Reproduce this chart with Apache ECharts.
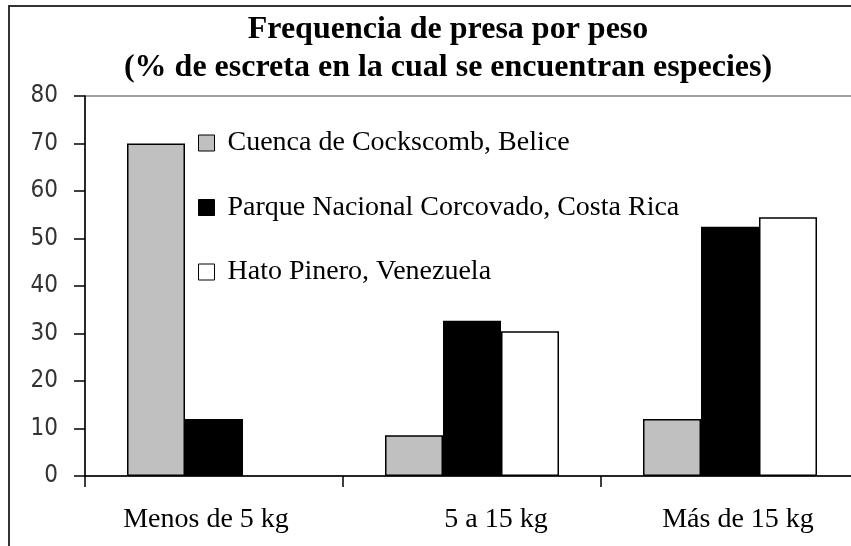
<!DOCTYPE html>
<html>
<head>
<meta charset="utf-8">
<script src="https://cdn.jsdelivr.net/npm/echarts@6/dist/echarts.min.js"></script>
<style>html,body{margin:0;padding:0;background:#fff;}#c{width:851px;height:546px;}</style>
</head>
<body>
<div id="c"></div>
<script>
const categories = ['Menos de 5 kg', '5 a 15 kg', 'Más de 15 kg'];
const seriesNames = ['Cuenca de Cockscomb, Belice', 'Parque Nacional Corcovado, Costa Rica', 'Hato Pinero, Venezuela'];
const belice = [70, 8.6, 12];
const costaRica = [12, 32.7, 52.5];
const venezuela = [0, 30.5, 54.5];
const yTicks = [0, 10, 20, 30, 40, 50, 60, 70, 80];
const titleLines = ['Frequencia de presa por peso', '(% de escreta en la cual se encuentran especies)'];

const colors = ['#c0c0c0', '#000000', '#ffffff'];
const serif = '"Liberation Serif", "Times New Roman", serif';
const labelKeys = ['a', 'b', 'c'];

const chart = echarts.init(document.getElementById('c'), null, {renderer: 'canvas'});
const seriesData = [belice, costaRica, venezuela];

chart.setOption({
  animation: false,
  backgroundColor: '#fff',
  title: [
    {text: titleLines[0], left: 448, top: 14, textAlign: 'center', padding: 0,
     textStyle: {fontFamily: serif, fontWeight: 'bold', fontSize: 32, color: '#000', lineHeight: 32}},
    {text: titleLines[1], left: 448, top: 52, textAlign: 'center', padding: 0,
     textStyle: {fontFamily: serif, fontWeight: 'bold', fontSize: 32, color: '#000', lineHeight: 32}}
  ],
  legend: {
    orient: 'vertical', left: 198, top: 129, itemGap: 36.5,
    itemWidth: 16, itemHeight: 16, padding: 0,
    icon: 'rect',
    textStyle: {fontFamily: serif, fontSize: 28, color: '#000', lineHeight: 28, padding: [0, 0, 0, 8]},
    data: seriesNames.map((n, i) => ({name: n, itemStyle: {color: colors[i], borderColor: '#000', borderWidth: 1}}))
  },
  grid: {left: 85, top: 96, width: 774, height: 380, containLabel: false, outerBoundsMode: 'none',
         show: true, borderColor: '#808080', borderWidth: 1.5, backgroundColor: 'transparent'},
  xAxis: {
    type: 'category', data: categories,
    axisLine: {lineStyle: {color: '#000', width: 1.5}},
    axisTick: {show: true, alignWithLabel: false, inside: false, length: 11, lineStyle: {color: '#000', width: 1.5}},
    axisLabel: {
      margin: 30, color: '#000',
      formatter: function (v, i) { return '{' + labelKeys[i] + '|' + v + '}'; },
      rich: {
        a: {fontFamily: serif, fontSize: 28, color: '#000', padding: [0, 16, 0, 0]},
        b: {fontFamily: serif, fontSize: 28, color: '#000', padding: [0, 0, 0, 48]},
        c: {fontFamily: serif, fontSize: 28, color: '#000', padding: [0, 0, 0, 16]}
      }
    },
    splitLine: {show: false}
  },
  yAxis: {
    type: 'value', min: 0, max: 80, interval: 10,
    axisLine: {show: true, lineStyle: {color: '#000', width: 1.5}},
    axisTick: {show: true, length: 11, lineStyle: {color: '#000', width: 1.5}},
    axisLabel: {margin: 27, color: '#333', fontFamily: '"DejaVu Sans Condensed", "DejaVu Sans", sans-serif', fontSize: 24,
      formatter: function (v) { return yTicks.indexOf(v) >= 0 ? String(v) : ''; }},
    splitLine: {show: false}
  },
  series: seriesNames.map((n, i) => ({
    name: n, type: 'bar',
    data: seriesData[i].map(v => (v === 0 ? '-' : v)),
    barWidth: 58, barGap: '0%',
    itemStyle: {color: colors[i], borderColor: '#000', borderWidth: 1.5}
  })),
  graphic: [
    {type: 'rect', shape: {x: 9, y: 6, width: 860, height: 560}, silent: true,
     style: {fill: 'none', stroke: '#333', lineWidth: 2}, z: 100}
  ]
});
</script>
</body>
</html>
